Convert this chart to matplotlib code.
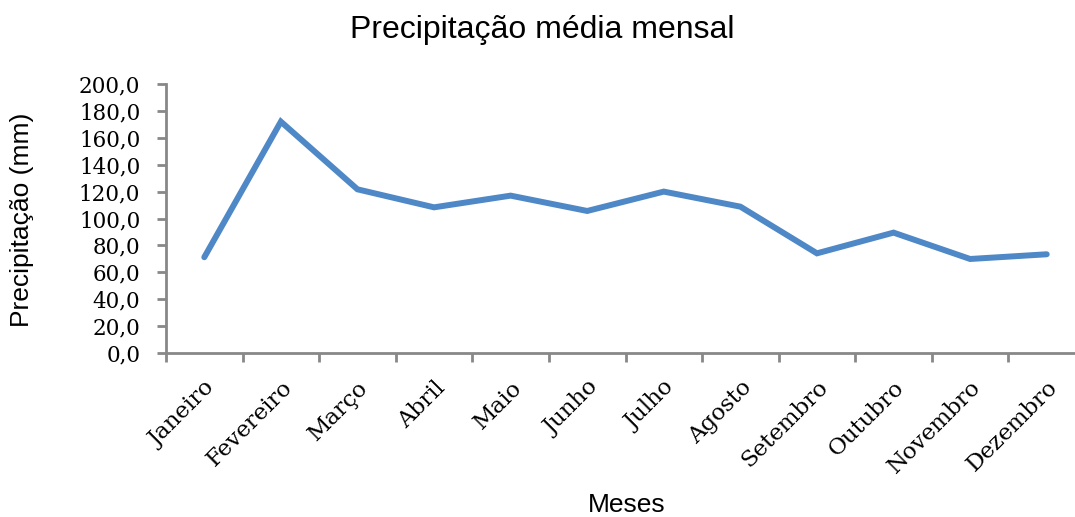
import matplotlib
matplotlib.use("Agg")
import matplotlib.pyplot as plt
from matplotlib.ticker import FixedLocator, FuncFormatter

meses = ["Janeiro", "Fevereiro", "Março", "Abril", "Maio", "Junho",
         "Julho", "Agosto", "Setembro", "Outubro", "Novembro", "Dezembro"]
precipitacao = [71.2, 172.0, 121.7, 108.3, 117.0, 105.6,
                120.0, 108.8, 74.1, 89.5, 69.9, 73.4]
y_ticks = [0, 20, 40, 60, 80, 100, 120, 140, 160, 180, 200]

W, H = 1075, 517
fig = plt.figure(figsize=(W / 100, H / 100), dpi=100)
left, right, bottom, top = 166, 1085, 353, 84
ax = fig.add_axes([left / W, 1 - bottom / H, (right - left) / W, (bottom - top) / H])

x = [i + 0.5 for i in range(len(meses))]
ax.plot(x, precipitacao, color="#4F88C6", linewidth=4.3,
        solid_joinstyle="miter", solid_capstyle="round", clip_on=False)

ax.set_xlim(0, len(meses))
ax.set_ylim(0, 200)

spine_color = "#888888"
for side in ("top", "right"):
    ax.spines[side].set_visible(False)
for side in ("left", "bottom"):
    ax.spines[side].set_color(spine_color)
    ax.spines[side].set_linewidth(2)

ax.yaxis.set_major_locator(FixedLocator(y_ticks))
ax.yaxis.set_major_formatter(FuncFormatter(lambda v, p: f"{v:.1f}".replace(".", ",")))
ax.xaxis.set_major_locator(FixedLocator(list(range(len(meses) + 1))))
ax.xaxis.set_major_formatter(FuncFormatter(lambda v, p: ""))
ax.xaxis.set_minor_locator(FixedLocator(x))
ax.set_xticklabels(meses, minor=True)

ax.tick_params(axis="y", direction="out", length=6.5, width=2, color=spine_color,
               labelsize=15.5, pad=12)
ax.tick_params(axis="x", which="major", direction="out", length=6.5, width=2,
               color=spine_color)
ax.tick_params(axis="x", which="minor", length=0, labelsize=16.5, pad=17)

for lbl in ax.get_yticklabels():
    lbl.set_fontfamily("DejaVu Serif")
for lbl in ax.get_xticklabels(minor=True):
    lbl.set_fontfamily("DejaVu Serif")
    lbl.set_rotation(45)
    lbl.set_ha("right")
    lbl.set_va("top")
    lbl.set_rotation_mode("anchor")

fig.text(542 / W, 1 - 30 / H, "Precipitação média mensal", ha="center", va="center",
         fontsize=23, family="Liberation Sans")
fig.text(627 / W, 1 - 505 / H, "Meses", ha="center", va="center",
         fontsize=19, family="Liberation Sans")
fig.text(22 / W, 1 - 220 / H, "Precipitação (mm)", ha="center", va="center",
         rotation=90, fontsize=19, family="Liberation Sans")

fig.savefig("out.png", dpi=100)
